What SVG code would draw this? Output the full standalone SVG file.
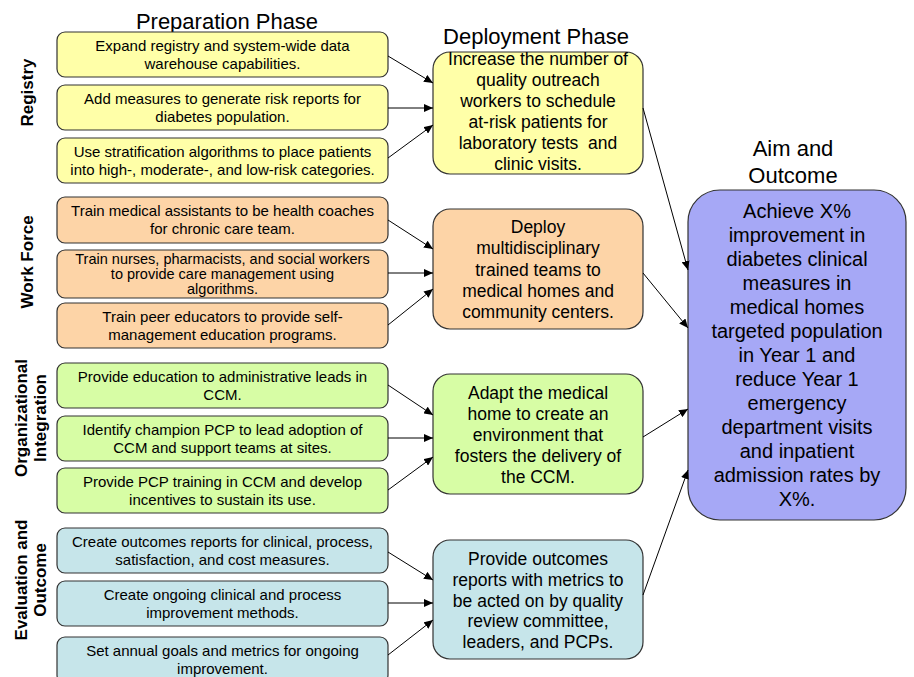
<svg xmlns="http://www.w3.org/2000/svg" width="914" height="677" viewBox="0 0 914 677">
<defs>
<marker id="ah" markerUnits="userSpaceOnUse" markerWidth="10" markerHeight="8" refX="9" refY="4" orient="auto">
<path d="M0,0 L9,4 L0,8 z" fill="#000"/>
</marker>
<style>
text{font-family:"Liberation Sans",Arial,sans-serif;fill:#000}
.box{stroke:#333;stroke-width:1.2}
.y{fill:#FFFFA8}.o{fill:#FDD4A7}.g{fill:#D7FDA5}.b{fill:#C6E5EA}.p{fill:#A6A8F6}
.s{font-size:15px;text-anchor:middle}
.s2{font-size:14.5px;text-anchor:middle}
.m{font-size:17.5px;text-anchor:middle}
.l{font-size:20px;text-anchor:middle}
.t{font-size:22px;text-anchor:middle}
.r{font-size:17px;font-weight:bold;text-anchor:middle}
.c line{stroke:#000;stroke-width:1;marker-end:url(#ah)}
</style>
</defs>
<rect width="914" height="677" fill="#fff"/>

<g id="titles">
<text class="t" x="227" y="29">Preparation Phase</text>
<text class="t" x="536" y="44">Deployment Phase</text>
<text class="t" x="793" y="156">Aim and</text>
<text class="t" x="793" y="183">Outcome</text>
</g>

<g id="labels">
<text class="r" transform="translate(33,92.5) rotate(-90)">Registry</text>
<text class="r" transform="translate(33,262) rotate(-90)">Work Force</text>
<text class="r" transform="translate(27,418) rotate(-90)">Organizational</text>
<text class="r" transform="translate(46,418) rotate(-90)">Integration</text>
<text class="r" transform="translate(27,580) rotate(-90)">Evaluation and</text>
<text class="r" transform="translate(46,580) rotate(-90)">Outcome</text>
</g>

<g id="r1"><rect class="box y" x="57" y="32" width="331" height="45" rx="8"/>
<text class="s" x="222.5" y="51">Expand registry and system-wide data</text>
<text class="s" x="222.5" y="69">warehouse capabilities.</text></g>
<g id="r2"><rect class="box y" x="57" y="85" width="331" height="45" rx="8"/>
<text class="s" x="222.5" y="104">Add measures to generate risk reports for</text>
<text class="s" x="222.5" y="122">diabetes population.</text></g>
<g id="r3"><rect class="box y" x="57" y="138" width="331" height="45" rx="8"/>
<text class="s" x="222.5" y="157">Use stratification algorithms to place patients</text>
<text class="s" x="222.5" y="175">into high-, moderate-, and low-risk categories.</text></g>

<g id="w1"><rect class="box o" x="57" y="197" width="331" height="46" rx="8"/>
<text class="s" x="222.5" y="216">Train medical assistants to be health coaches</text>
<text class="s" x="222.5" y="234">for chronic care team.</text></g>
<g id="w2"><rect class="box o" x="57" y="250" width="331" height="48" rx="8"/>
<text class="s2" x="222.5" y="264">Train nurses, pharmacists, and social workers</text>
<text class="s2" x="222.5" y="279">to provide care management using</text>
<text class="s2" x="222.5" y="294">algorithms.</text></g>
<g id="w3"><rect class="box o" x="57" y="303" width="331" height="45" rx="8"/>
<text class="s" x="222.5" y="322">Train peer educators to provide self-</text>
<text class="s" x="222.5" y="340">management education programs.</text></g>

<g id="o1"><rect class="box g" x="57" y="363" width="331" height="45" rx="8"/>
<text class="s" x="222.5" y="382">Provide education to administrative leads in</text>
<text class="s" x="222.5" y="400">CCM.</text></g>
<g id="o2"><rect class="box g" x="57" y="416" width="331" height="45" rx="8"/>
<text class="s" x="222.5" y="435">Identify champion PCP to lead adoption of</text>
<text class="s" x="222.5" y="453">CCM and support teams at sites.</text></g>
<g id="o3"><rect class="box g" x="57" y="468" width="331" height="45" rx="8"/>
<text class="s" x="222.5" y="487">Provide PCP training in CCM and develop</text>
<text class="s" x="222.5" y="505">incentives to sustain its use.</text></g>

<g id="e1"><rect class="box b" x="57" y="528" width="331" height="45" rx="8"/>
<text class="s" x="222.5" y="547">Create outcomes reports for clinical, process,</text>
<text class="s" x="222.5" y="565">satisfaction, and cost measures.</text></g>
<g id="e2"><rect class="box b" x="57" y="581" width="331" height="45" rx="8"/>
<text class="s" x="222.5" y="600">Create ongoing clinical and process</text>
<text class="s" x="222.5" y="618">improvement methods.</text></g>
<g id="e3"><rect class="box b" x="57" y="637" width="331" height="46" rx="8"/>
<text class="s" x="222.5" y="656">Set annual goals and metrics for ongoing</text>
<text class="s" x="222.5" y="674">improvement.</text></g>

<g id="d1"><rect class="box y" x="433" y="52" width="210" height="122" rx="17"/>
<text class="m" x="538" y="65">Increase the number of</text>
<text class="m" x="538" y="86">quality outreach</text>
<text class="m" x="538" y="107">workers to schedule</text>
<text class="m" x="538" y="128">at-risk patients for</text>
<text class="m" x="538" y="149" xml:space="preserve">laboratory tests  and</text>
<text class="m" x="538" y="170">clinic visits.</text></g>
<g id="d2"><rect class="box o" x="433" y="209" width="210" height="120" rx="17"/>
<text class="m" x="538" y="233">Deploy</text>
<text class="m" x="538" y="254">multidisciplinary</text>
<text class="m" x="538" y="275.5">trained teams to</text>
<text class="m" x="538" y="296.5">medical homes and</text>
<text class="m" x="538" y="318">community centers.</text></g>
<g id="d3"><rect class="box g" x="433" y="374" width="210" height="120" rx="17"/>
<text class="m" x="538" y="399">Adapt the medical</text>
<text class="m" x="538" y="420">home to create an</text>
<text class="m" x="538" y="441">environment that</text>
<text class="m" x="538" y="462">fosters the delivery of</text>
<text class="m" x="538" y="483">the CCM.</text></g>
<g id="d4"><rect class="box b" x="433" y="540" width="210" height="119" rx="17"/>
<text class="m" x="538" y="565">Provide outcomes</text>
<text class="m" x="538" y="586">reports with metrics to</text>
<text class="m" x="538" y="606.5">be acted on by quality</text>
<text class="m" x="538" y="627">review committee,</text>
<text class="m" x="538" y="648">leaders, and PCPs.</text></g>

<g id="aim"><rect class="box p" x="688" y="190" width="218" height="330" rx="32"/>
<text class="l" x="797" y="218">Achieve X%</text>
<text class="l" x="797" y="242">improvement in</text>
<text class="l" x="797" y="266">diabetes clinical</text>
<text class="l" x="797" y="290">measures in</text>
<text class="l" x="797" y="314">medical homes</text>
<text class="l" x="797" y="338">targeted population</text>
<text class="l" x="797" y="362">in Year 1 and</text>
<text class="l" x="797" y="386">reduce Year 1</text>
<text class="l" x="797" y="410">emergency</text>
<text class="l" x="797" y="434">department visits</text>
<text class="l" x="797" y="458">and inpatient</text>
<text class="l" x="797" y="482">admission rates by</text>
<text class="l" x="797" y="506">X%.</text></g>

<g id="connectors" class="c">
<line x1="388" y1="56" x2="433" y2="83"/>
<line x1="388" y1="108" x2="433" y2="108"/>
<line x1="388" y1="158" x2="433" y2="125"/>
<line x1="388" y1="220" x2="433" y2="249"/>
<line x1="388" y1="273" x2="433" y2="273"/>
<line x1="388" y1="325" x2="433" y2="289"/>
<line x1="388" y1="385" x2="433" y2="415"/>
<line x1="388" y1="438" x2="433" y2="438"/>
<line x1="388" y1="490" x2="433" y2="457"/>
<line x1="388" y1="552" x2="433" y2="580"/>
<line x1="388" y1="603" x2="433" y2="603"/>
<line x1="388" y1="655" x2="433" y2="620"/>
<line x1="643" y1="108" x2="688" y2="270"/>
<line x1="643" y1="273" x2="688" y2="328"/>
<line x1="643" y1="437" x2="688" y2="409"/>
<line x1="643" y1="595" x2="688" y2="470"/>
</g>
</svg>
